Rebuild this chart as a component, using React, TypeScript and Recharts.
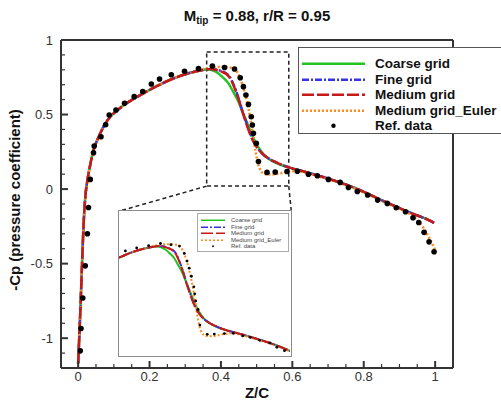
import React from 'react';
import {
  ComposedChart,
  Line,
  Scatter,
  XAxis,
  YAxis,
  ReferenceArea,
  ReferenceLine,
} from 'recharts';

const FONT = '"Liberation Sans", Arial, Helvetica, sans-serif';

// Leading-edge branch, common to all four computations
const leadZ = [0, 0.0056, 0.011, 0.015, 0.018, 0.021, 0.026, 0.032, 0.043, 0.052, 0.062, 0.075, 0.09, 0.108, 0.127, 0.155, 0.185, 0.22, 0.26, 0.3, 0.335];
const leadCp = [-1.17, -0.85, -0.5, -0.25, -0.12, -0.03, 0.06, 0.14, 0.26, 0.32, 0.374, 0.435, 0.485, 0.525, 0.562, 0.604, 0.645, 0.69, 0.735, 0.77, 0.792];

// Shock region, per grid
const coarseZ = [0.352, 0.365, 0.38, 0.393, 0.405, 0.421, 0.435, 0.449, 0.46, 0.472, 0.482, 0.491, 0.5, 0.51, 0.52, 0.533, 0.55, 0.571, 0.595, 0.617];
const coarseCp = [0.8, 0.802, 0.793, 0.776, 0.75, 0.709, 0.65, 0.586, 0.52, 0.452, 0.392, 0.342, 0.3, 0.262, 0.232, 0.206, 0.18, 0.16, 0.142, 0.128];

const fineZ = [0.352, 0.37, 0.385, 0.4, 0.416, 0.426, 0.438, 0.449, 0.46, 0.472, 0.482, 0.491, 0.503, 0.515, 0.533, 0.552, 0.575, 0.599, 0.617];
const fineCp = [0.8, 0.806, 0.803, 0.792, 0.774, 0.748, 0.685, 0.612, 0.525, 0.44, 0.372, 0.322, 0.275, 0.24, 0.206, 0.182, 0.158, 0.139, 0.128];

const mediumZ = [0.352, 0.37, 0.385, 0.4, 0.416, 0.426, 0.438, 0.449, 0.46, 0.472, 0.482, 0.491, 0.503, 0.515, 0.533, 0.552, 0.575, 0.599, 0.617];
const mediumCp = [0.8, 0.806, 0.801, 0.789, 0.77, 0.743, 0.68, 0.607, 0.52, 0.432, 0.366, 0.318, 0.273, 0.239, 0.206, 0.182, 0.158, 0.139, 0.128];

// Aft part, shared by the viscous (RANS) solutions
const viscousTailZ = [0.64, 0.659, 0.706, 0.753, 0.8, 0.846, 0.893, 0.939, 0.97, 0.997];
const viscousTailCp = [0.113, 0.1, 0.066, 0.028, -0.018, -0.07, -0.12, -0.167, -0.195, -0.226];

// Inviscid solution after the leading edge
const eulerZ = [0.352, 0.376, 0.4, 0.43, 0.442, 0.452, 0.46, 0.468, 0.477, 0.484, 0.491, 0.497, 0.503, 0.509, 0.515, 0.527, 0.543, 0.56, 0.58, 0.6, 0.62, 0.659, 0.706, 0.753, 0.8, 0.846, 0.893, 0.93, 0.955, 0.97, 0.985, 1.0];
const eulerCp = [0.805, 0.816, 0.82, 0.814, 0.795, 0.755, 0.7, 0.635, 0.54, 0.45, 0.34, 0.25, 0.18, 0.135, 0.112, 0.1, 0.098, 0.103, 0.112, 0.12, 0.118, 0.094, 0.062, 0.024, -0.022, -0.075, -0.125, -0.17, -0.22, -0.27, -0.335, -0.41];

// Experimental reference
const refZ = [0.006, 0.008, 0.013, 0.02, 0.026, 0.029, 0.034, 0.043, 0.045, 0.064, 0.077, 0.087, 0.106, 0.13, 0.157, 0.181, 0.205, 0.228, 0.261, 0.298, 0.337, 0.376, 0.41, 0.438, 0.454, 0.463, 0.47, 0.477, 0.485, 0.488, 0.491, 0.499, 0.505, 0.529, 0.552, 0.585, 0.614, 0.645, 0.67, 0.701, 0.734, 0.757, 0.782, 0.811, 0.839, 0.866, 0.891, 0.917, 0.938, 0.954, 0.969, 0.983, 0.997];
const refCp = [-1.085, -0.935, -0.73, -0.515, -0.3, -0.123, 0.065, 0.244, 0.289, 0.351, 0.432, 0.497, 0.53, 0.575, 0.62, 0.655, 0.705, 0.738, 0.767, 0.79, 0.808, 0.825, 0.816, 0.805, 0.747, 0.687, 0.631, 0.568, 0.485, 0.43, 0.374, 0.307, 0.185, 0.112, 0.114, 0.118, 0.12, 0.1, 0.089, 0.065, 0.045, 0.011, -0.016, -0.04, -0.074, -0.096, -0.125, -0.152, -0.192, -0.224, -0.29, -0.354, -0.42];

// Axis ticks
const xMajorTicks = [0, 0.2, 0.4, 0.6, 0.8, 1];
const xMinorTicks = [0.05, 0.1, 0.15, 0.25, 0.3, 0.35, 0.45, 0.5, 0.55, 0.65, 0.7, 0.75, 0.85, 0.9, 0.95];
const yMajorTicks = [-1, -0.5, 0, 0.5, 1];
const yMinorTicks = [-1.1, -0.9, -0.8, -0.7, -0.6, -0.4, -0.3, -0.2, -0.1, 0.1, 0.2, 0.3, 0.4, 0.6, 0.7, 0.8, 0.9];

// Axis ranges
const xDomain: [number, number] = [-0.048, 1.05];
const yDomain: [number, number] = [-1.2, 1];
const insetXDomain: [number, number] = [0.24, 0.8];
const insetYDomain: [number, number] = [-0.05, 1.08];

// Magnified window and where its lower corners lead to on the inset
const zoomWindow = { z1: 0.36, z2: 0.59, cp1: 0.02, cp2: 0.92 };
const insetCornerLeft = { z: 0.115, cp: -0.148 };
const insetCornerRight = { z: 0.597, cp: -0.148 };

type Pt = { z: number; cp: number };
const zip = (zs: number[], cps: number[]): Pt[] => zs.map((z, i) => ({ z, cp: cps[i] }));

const coarse = zip([...leadZ, ...coarseZ, ...viscousTailZ], [...leadCp, ...coarseCp, ...viscousTailCp]);
const fine = zip([...leadZ, ...fineZ, ...viscousTailZ], [...leadCp, ...fineCp, ...viscousTailCp]);
const medium = zip([...leadZ, ...mediumZ, ...viscousTailZ], [...leadCp, ...mediumCp, ...viscousTailCp]);
const euler = zip([...leadZ, ...eulerZ], [...leadCp, ...eulerCp]);
const refData = zip(refZ, refCp);

type Series = { name: string; data: Pt[]; color: string; dash?: string; width: number };
const coarseSeries: Series = { name: 'Coarse grid', data: coarse, color: '#22c422', width: 2.5 };
const fineSeries: Series = { name: 'Fine grid', data: fine, color: '#3434e6', dash: '7 2 2 2', width: 2.5 };
const mediumSeries: Series = { name: 'Medium grid', data: medium, color: '#c81818', dash: '12 3', width: 2.5 };
const eulerSeries: Series = { name: 'Medium grid_Euler', data: euler, color: '#ff8a20', dash: '2 2', width: 2.5 };

// legend order
const series: Series[] = [coarseSeries, fineSeries, mediumSeries, eulerSeries];
// painting order (last on top)
const drawOrder: Series[] = [coarseSeries, fineSeries, eulerSeries, mediumSeries];

const fmt = (v: number) => String(Math.round(v * 100) / 100);
const isMajor = (v: number, list: number[]) => list.some((t) => Math.abs(t - v) < 1e-9);

const XTick = (props: any) => {
  const { x, y, payload } = props;
  const major = isMajor(payload.value, xMajorTicks);
  return (
    <g>
      <line x1={x} x2={x} y1={y} y2={y - (major ? 7 : 4)} stroke="#333" strokeWidth={major ? 2 : 1.2} />
      {major && (
        <text x={x} y={y + 13} textAnchor="middle" fontSize={13} fill="#333" fontFamily={FONT}>
          {fmt(payload.value)}
        </text>
      )}
    </g>
  );
};

const YTick = (props: any) => {
  const { x, y, payload } = props;
  const major = isMajor(payload.value, yMajorTicks);
  return (
    <g>
      <line x1={x} x2={x + (major ? 7 : 4)} y1={y} y2={y} stroke="#333" strokeWidth={major ? 2 : 1.2} />
      {major && (
        <text x={x - 8} y={y + 4.5} textAnchor="end" fontSize={13} fill="#333" fontFamily={FONT}>
          {fmt(payload.value)}
        </text>
      )}
    </g>
  );
};

const Dot = (r: number) => (p: any) => <circle cx={p.cx} cy={p.cy} r={r} fill="#000" />;

const LegendRows = ({ size, rowH, lineW, gap, dotR, stroke }: { size: number; rowH: number; lineW: number; gap: number; dotR: number; stroke: number }) => (
  <>
    {series.map((s) => (
      <div key={s.name} style={{ display: 'flex', alignItems: 'center', height: rowH }}>
        <svg width={lineW} height={rowH} style={{ flex: 'none' }}>
          <line x1={0} x2={lineW} y1={rowH / 2} y2={rowH / 2} stroke={s.color} strokeWidth={stroke} strokeDasharray={s.dash} />
        </svg>
        <span style={{ marginLeft: gap, fontSize: size, whiteSpace: 'nowrap' }}>{s.name}</span>
      </div>
    ))}
    <div style={{ display: 'flex', alignItems: 'center', height: rowH }}>
      <svg width={lineW} height={rowH} style={{ flex: 'none' }}>
        <circle cx={lineW / 2} cy={rowH / 2} r={dotR} fill="#000" />
      </svg>
      <span style={{ marginLeft: gap, fontSize: size, whiteSpace: 'nowrap' }}>Ref. data</span>
    </div>
  </>
);

const curveLines = (width: number) =>
  drawOrder.map((s) => (
    <Line
      key={s.name}
      data={s.data}
      dataKey="cp"
      type="monotone"
      stroke={s.color}
      strokeWidth={width}
      strokeDasharray={s.dash}
      dot={false}
      activeDot={false}
      isAnimationActive={false}
    />
  ));

export default function App() {
  return (
    <div style={{ position: 'absolute', left: 0, top: 0, width: 501, height: 401, overflow: 'hidden', background: '#fff', fontFamily: FONT }}>
      <ComposedChart width={501} height={401} margin={{ top: 40, right: 48, bottom: 0, left: 0 }}>
        <XAxis
          type="number"
          dataKey="z"
          domain={xDomain}
          allowDataOverflow
          ticks={[...xMajorTicks, ...xMinorTicks].sort((a, b) => a - b)}
          interval={0}
          tickSize={0}
          tickMargin={0}
          tick={(p: any) => <XTick {...p} />}
          height={33}
          axisLine={{ stroke: '#333', strokeWidth: 2 }}
          tickLine={false}
        />
        <YAxis
          type="number"
          dataKey="cp"
          domain={yDomain}
          allowDataOverflow
          ticks={[...yMajorTicks, ...yMinorTicks].sort((a, b) => a - b)}
          interval={0}
          tickSize={0}
          tickMargin={0}
          tick={(p: any) => <YTick {...p} />}
          width={61}
          axisLine={{ stroke: '#333', strokeWidth: 2 }}
          tickLine={false}
        />
        <ReferenceLine x={xDomain[1]} stroke="#333" strokeWidth={2} ifOverflow="visible" />
        <ReferenceLine y={yDomain[1]} stroke="#333" strokeWidth={2} ifOverflow="visible" />
        <ReferenceArea
          x1={zoomWindow.z1}
          x2={zoomWindow.z2}
          y1={zoomWindow.cp1}
          y2={zoomWindow.cp2}
          fill="none"
          fillOpacity={0}
          stroke="#222"
          strokeWidth={1.5}
          strokeDasharray="4 3"
          ifOverflow="visible"
        />
        <ReferenceLine
          segment={[{ x: zoomWindow.z1, y: zoomWindow.cp1 }, { x: insetCornerLeft.z, y: insetCornerLeft.cp }]}
          stroke="#222"
          strokeWidth={1.5}
          strokeDasharray="4 3"
          ifOverflow="visible"
        />
        <ReferenceLine
          segment={[{ x: zoomWindow.z2, y: zoomWindow.cp1 }, { x: insetCornerRight.z, y: insetCornerRight.cp }]}
          stroke="#222"
          strokeWidth={1.5}
          strokeDasharray="4 3"
          ifOverflow="visible"
        />
        {curveLines(2.5)}
        <Scatter data={refData} dataKey="cp" shape={Dot(2.8)} isAnimationActive={false} />
      </ComposedChart>

      {/* Title */}
      <div style={{ position: 'absolute', left: 61, width: 392, top: 7, textAlign: 'center', fontSize: 15, fontWeight: 'bold', lineHeight: '17px', color: '#111' }}>
        M<sub style={{ fontSize: 10, verticalAlign: '-3px', lineHeight: 0 }}>tip</sub> = 0.88, r/R = 0.95
      </div>

      {/* Axis titles */}
      <div style={{ position: 'absolute', left: 257, top: 392, transform: 'translate(-50%, -50%)', fontSize: 15, fontWeight: 'bold', color: '#111', whiteSpace: 'nowrap' }}>
        Z/C
      </div>
      <div style={{ position: 'absolute', left: 14, top: 200, transform: 'translate(-50%, -50%) rotate(-90deg)', fontSize: 15, fontWeight: 'bold', color: '#111', whiteSpace: 'nowrap' }}>
        -Cp (pressure coefficient)
      </div>

      {/* Legend */}
      <div style={{ position: 'absolute', left: 298, top: 47, width: 210, height: 87, boxSizing: 'border-box', border: '1.5px solid #555', background: '#fff', padding: '8px 0 0 3px', fontWeight: 'bold', color: '#111' }}>
        <LegendRows size={13.5} rowH={15.5} lineW={63} gap={10} dotR={2.2} stroke={2.5} />
      </div>

      {/* Magnified shock region */}
      <div style={{ position: 'absolute', left: 118, top: 210, width: 174, height: 147, boxSizing: 'border-box', border: '1.5px solid #8a8a8a', background: '#fff' }}>
        <ComposedChart width={171} height={144} margin={{ top: 0, right: 0, bottom: 0, left: 0 }}>
          <XAxis type="number" dataKey="z" domain={insetXDomain} allowDataOverflow hide />
          <YAxis type="number" dataKey="cp" domain={insetYDomain} allowDataOverflow hide />
          {curveLines(2)}
          <Scatter data={refData} dataKey="cp" shape={Dot(1.4)} isAnimationActive={false} />
        </ComposedChart>
        <div style={{ position: 'absolute', left: 78, top: 2, width: 92, height: 39, boxSizing: 'border-box', border: '1px solid #aaa', background: '#fff', padding: '3px 0 0 3px', color: '#444' }}>
          <LegendRows size={6} rowH={6.5} lineW={24} gap={6} dotR={0.9} stroke={1.5} />
        </div>
      </div>
    </div>
  );
}
